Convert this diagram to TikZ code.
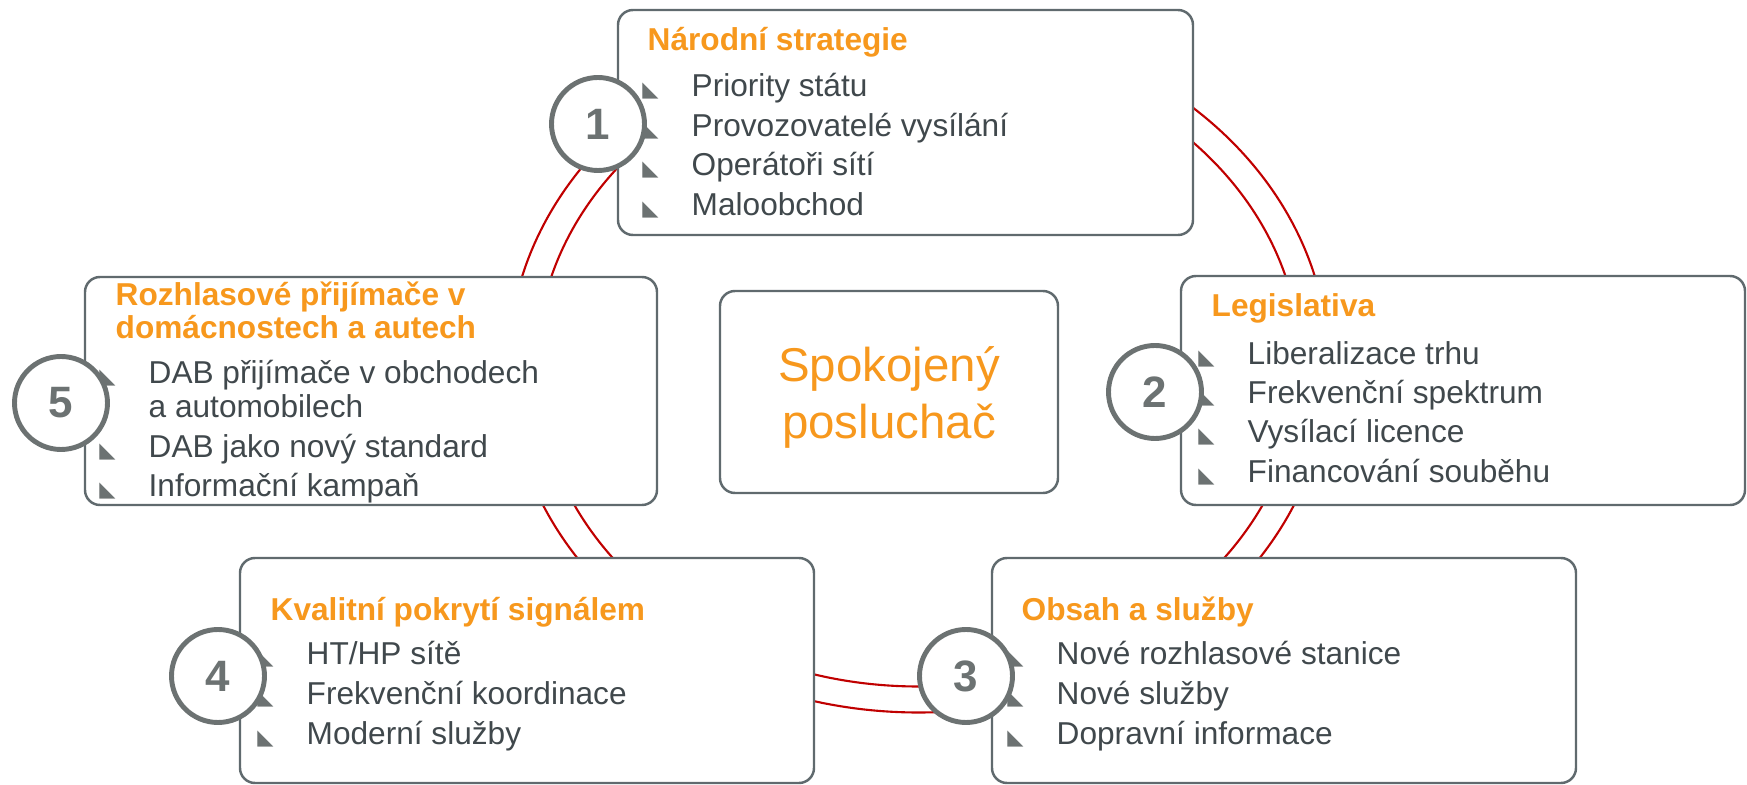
\documentclass[tikz,border=0pt]{standalone}
\usepackage{fontspec}
\setmainfont{Liberation Sans}
\newfontfamily\symb{DejaVu Sans}
\usetikzlibrary{fit}

\definecolor{orng}{RGB}{247,152,29}
\definecolor{txtgray}{RGB}{64,72,76}
\definecolor{boxgray}{RGB}{96,106,110}
\definecolor{numgray}{RGB}{108,114,114}
\definecolor{ringred}{RGB}{192,0,0}

\newcommand{\bul}{{\color{numgray}\symb\fontsize{6}{6}\selectfont\char"25E3}}
\newcommand{\itm}{\llap{\bul\hspace{3.3mm}}}

\begin{document}
\begin{tikzpicture}[x=.1mm, y=-.1mm]
	\useasboundingbox (0,0) rectangle (1747,785);
	
	% RING
	\tikzstyle{ring}=[ringred, line width=.6pt]
	\draw[ring] (918.5,365.5) ellipse [x radius=410, y radius=347];
	\draw[ring] (918.5,365.5) ellipse [x radius=382, y radius=321];
	
	% BOXES
	\tikzstyle{box}=[draw=boxgray, line width=.7pt, fill=white, rounded corners=1.5mm, inner sep=0pt]
	\node[box, fit={(618,10) (1193,235)}] (b1) {};
	\node[box, fit={(1181,276) (1745,505)}] (b2) {};
	\node[box, fit={(992,558) (1576,783)}] (b3) {};
	\node[box, fit={(240,558) (814,783)}] (b4) {};
	\node[box, fit={(85,277) (657,505)}] (b5) {};
	\node[box, fit={(720,291) (1058,493)}] (mid) {};
	
	% TEXTS
	\tikzstyle{head}=[anchor=base west, inner sep=0pt, text=orng, font=\fontsize{9}{10}\selectfont\bfseries]
	\tikzstyle{item}=[anchor=base west, inner sep=0pt, text=txtgray, font=\fontsize{9}{10}\selectfont]
	\path (647,51) node[head] (h1) {Národní strategie};
	\path (691,97) node[item] (i11) {\itm Priority státu};
	\path (691,136.5) node[item] (i12) {\itm Provozovatelé vysílání};
	\path (691,176) node[item] (i13) {\itm Operátoři sítí};
	\path (691,215.5) node[item] (i14) {\itm Maloobchod};
	
	\path (1211,317) node[head] (h2) {Legislativa};
	\path (1247,365) node[item] (i21) {\itm Liberalizace trhu};
	\path (1247,404) node[item] (i22) {\itm Frekvenční spektrum};
	\path (1247,443) node[item] (i23) {\itm Vysílací licence};
	\path (1247,483) node[item] (i24) {\itm Financování souběhu};
	
	\path (1021,621) node[head] (h3) {Obsah a služby};
	\path (1056,665) node[item] (i31) {\itm Nové rozhlasové stanice};
	\path (1056,705) node[item] (i32) {\itm Nové služby};
	\path (1056,745) node[item] (i33) {\itm Dopravní informace};
	
	\path (270,621) node[head] (h4) {Kvalitní pokrytí signálem};
	\path (306,665) node[item] (i41) {\itm HT/HP sítě};
	\path (306,705) node[item] (i42) {\itm Frekvenční koordinace};
	\path (306,745) node[item] (i43) {\itm Moderní služby};
	
	\path (115,306) node[head] (h5a) {Rozhlasové přijímače v};
	\path (115,339) node[head] (h5b) {domácnostech a autech};
	\path (148,384) node[item] (i51) {\itm DAB přijímače v obchodech};
	\path (148,418) node[item] (i51b) {a automobilech};
	\path (148,458) node[item] (i52) {\itm DAB jako nový standard};
	\path (148,497) node[item] (i53) {\itm Informační kampaň};
	
	\path (889,397) node[align=center, text=orng, font=\fontsize{13.5}{16.2}\selectfont] (goal) {Spokojený\\posluchač};
	
	% NUMBERS
	\tikzstyle{num}=[circle, draw=numgray, line width=1.4pt, fill=white, minimum size=9.3mm, inner sep=0pt, text=numgray, font=\fontsize{12.5}{12.5}\selectfont\bfseries]
	\path (598,124) node[num] (c1) {1};
	\path (1155,392) node[num] (c2) {2};
	\path (966,676) node[num] (c3) {3};
	\path (218,676) node[num] (c4) {4};
	\path (61,403) node[num] (c5) {5};
	
\end{tikzpicture}
\end{document}
